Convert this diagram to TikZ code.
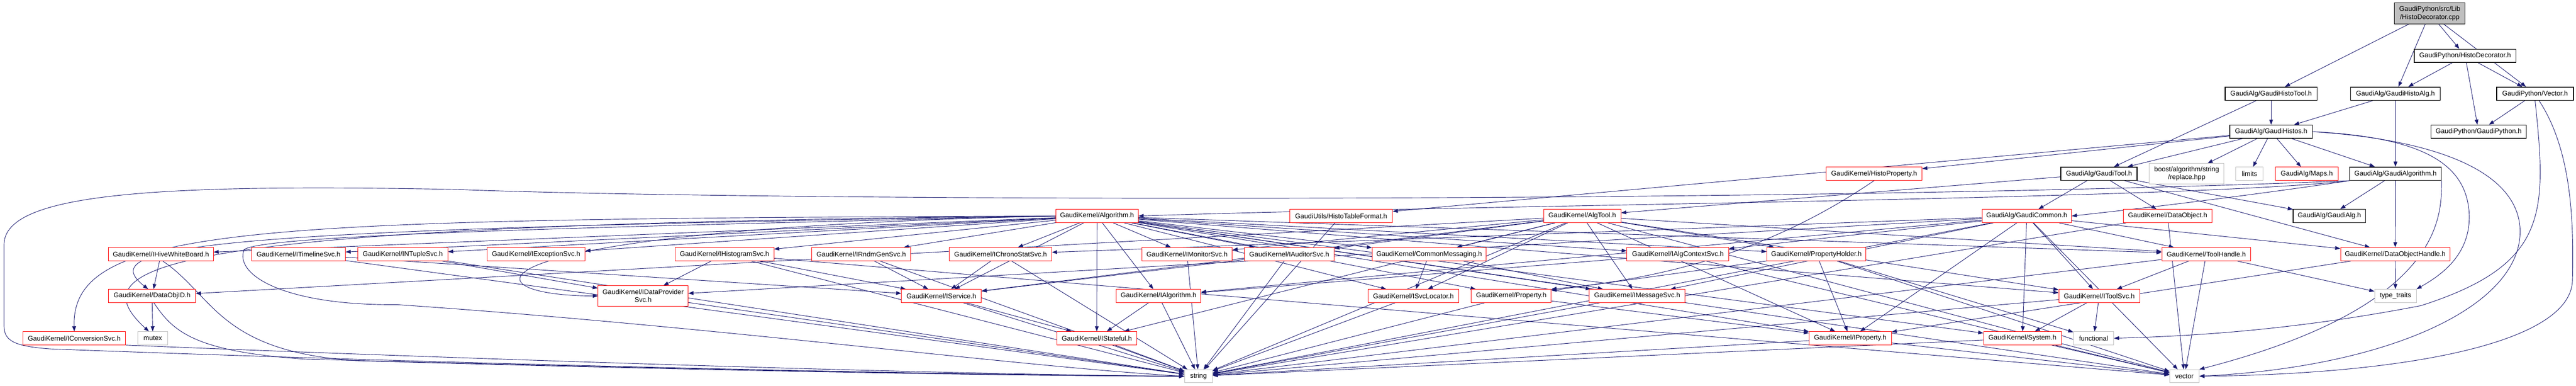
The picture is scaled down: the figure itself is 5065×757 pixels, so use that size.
\documentclass[tikz,border=0pt]{standalone}
\usepackage{fontspec}
\setmainfont{Liberation Sans}
\usetikzlibrary{arrows.meta}
\definecolor{navy}{HTML}{191970}
\definecolor{nred}{HTML}{FF0000}
\definecolor{ngrey}{HTML}{BFBFBF}
\pgfdeclarelayer{bg}
\pgfdeclarelayer{paper}
\pgfsetlayers{paper,bg,main}
\begin{document}
\begin{tikzpicture}[x=0.75pt,y=-0.75pt,
 box/.style={rectangle,draw,fill=white,line width=0.75pt,inner xsep=1pt,inner ysep=0pt,minimum height=19.5pt,align=center,font=\fontsize{10}{11.5}\selectfont},
 rbox/.style={box,draw=nred},
 kbox/.style={box,draw=black,line width=1.1pt},
 gbox/.style={box,draw=ngrey},
 wd/.style={minimum width=#1*0.75pt},
 edg/.style={draw=navy,line width=0.7pt,-{Triangle[length=7.5pt,width=5.5pt]}}]
\begin{pgfonlayer}{paper}
\fill[white] (0,0) rectangle (5065,757);
\end{pgfonlayer}
\useasboundingbox (0,0) rectangle (5065,757);
% rows A-E
\node[box,fill=ngrey,draw=black,wd=139,minimum height=30.75pt] (cpp) at (4777.5,26.5) {GaudiPython/src/Lib\\/HistoDecorator.cpp};
\node[kbox,wd=200] (hdh) at (4847,109.5) {GaudiPython/HistoDecorator.h};
\node[kbox,wd=181] (ght) at (4465.5,184) {GaudiAlg/GaudiHistoTool.h};
\node[kbox,wd=176] (gha) at (4710,184) {GaudiAlg/GaudiHistoAlg.h};
\node[kbox,wd=151] (vech) at (4984.5,184) {GaudiPython/Vector.h};
\node[kbox,wd=163] (ghs) at (4465.5,258.5) {GaudiAlg/GaudiHistos.h};
\node[kbox,wd=187] (gpy) at (4873.5,258.5) {GaudiPython/GaudiPython.h};
\node[rbox,wd=188] (hprop) at (3685,341) {GaudiKernel/HistoProperty.h};
\node[kbox,wd=150] (gtool) at (4127,341) {GaudiAlg/GaudiTool.h};
\node[gbox,wd=147,minimum height=30pt] (boost) at (4299.5,341) {boost/algorithm/string\\/replace.hpp};
\node[gbox,wd=54] (limits) at (4423,341) {limits};
\node[rbox,wd=123] (maps) at (4535.5,341) {GaudiAlg/Maps.h};
\node[kbox,wd=180] (galg) at (4710,341) {GaudiAlg/GaudiAlgorithm.h};
% row F
\node[rbox,wd=162] (alg) at (2157,424) {GaudiKernel/Algorithm.h};
\node[rbox,wd=202] (htf) at (2637,424) {GaudiUtils/HistoTableFormat.h};
\node[rbox,wd=152] (algtool) at (3111,424) {GaudiKernel/AlgTool.h};
\node[rbox,wd=176] (gcom) at (3985,424) {GaudiAlg/GaudiCommon.h};
\node[rbox,wd=174] (dobj) at (4262,424) {GaudiKernel/DataObject.h};
\node[kbox,wd=142] (galgh) at (4580,424) {GaudiAlg/GaudiAlg.h};
% row G
\node[rbox,wd=206] (ihwb) at (316.5,499) {GaudiKernel/IHiveWhiteBoard.h};
\node[rbox,wd=184] (itl) at (587,499) {GaudiKernel/ITimelineSvc.h};
\node[rbox,wd=177] (ints) at (792,499) {GaudiKernel/INTupleSvc.h};
\node[rbox,wd=193] (iexc) at (1054,499) {GaudiKernel/IExceptionSvc.h};
\node[rbox,wd=194] (ihist) at (1424.6,499) {GaudiKernel/IHistogramSvc.h};
\node[rbox,wd=195] (irndm) at (1693.4,499) {GaudiKernel/IRndmGenSvc.h};
\node[rbox,wd=201] (ichrono) at (1967.3,499) {GaudiKernel/IChronoStatSvc.h};
\node[rbox,wd=178] (imon) at (2334,499) {GaudiKernel/IMonitorSvc.h};
\node[rbox,wd=176] (iaud) at (2535,499) {GaudiKernel/IAuditorSvc.h};
\node[rbox,wd=224] (cmsg) at (2810,499) {GaudiKernel/CommonMessaging.h};
\node[rbox,wd=200] (iactx) at (3299,499) {GaudiKernel/IAlgContextSvc.h};
\node[rbox,wd=195] (phold) at (3571.5,499) {GaudiKernel/PropertyHolder.h};
\node[rbox,wd=175] (thandle) at (4338,499) {GaudiKernel/ToolHandle.h};
\node[rbox,wd=215] (dohandle) at (4709.5,499) {GaudiKernel/DataObjectHandle.h};
% row H
\node[rbox,wd=171] (doid) at (299,581) {GaudiKernel/DataObjID.h};
\node[rbox,wd=177,minimum height=30pt] (idps) at (1264.5,581) {GaudiKernel/IDataProvider\\Svc.h};
\node[rbox,wd=157] (isvc) at (1851,581) {GaudiKernel/IService.h};
\node[rbox,wd=166] (ialgo) at (2278,581) {GaudiKernel/IAlgorithm.h};
\node[rbox,wd=178] (isvcl) at (2779,581) {GaudiKernel/ISvcLocator.h};
\node[rbox,wd=157] (prop) at (2971.5,581) {GaudiKernel/Property.h};
\node[rbox,wd=188] (imsg) at (3219,581) {GaudiKernel/IMessageSvc.h};
\node[rbox,wd=159] (itool) at (4127.5,581) {GaudiKernel/IToolSvc.h};
\node[gbox,wd=82] (ttraits) at (4710,581) {type\_traits};
% row I
\node[rbox,wd=202] (iconv) at (146,664) {GaudiKernel/IConversionSvc.h};
\node[gbox,wd=59] (mutex) at (300.5,664) {mutex};
\node[rbox,wd=157] (istate) at (2156.5,664) {GaudiKernel/IStateful.h};
\node[rbox,wd=162] (iprop) at (3638,664) {GaudiKernel/IProperty.h};
\node[rbox,wd=153] (system) at (3976.5,664) {GaudiKernel/System.h};
\node[gbox,wd=79] (functional) at (4116.5,664) {functional};
% row J
\node[gbox,wd=55] (string) at (2356.5,738.5) {string};
\node[gbox,wd=58] (vector) at (4295,738.5) {vector};

\begin{pgfonlayer}{bg}
\foreach \s/\t in {cpp/hdh, cpp/gha, cpp/ght, cpp/vech,
 hdh/gha, hdh/gpy, hdh/vech, ght/ghs, ght/gtool, gha/ghs, gha/galg, vech/gpy,
 ghs/htf, ghs/hprop, ghs/gtool, ghs/boost, ghs/limits, ghs/maps, ghs/galg,
 gtool/algtool, gtool/gcom, gtool/dobj, gtool/galgh, gtool/dohandle,
 galg/galgh, galg/dohandle,
 alg/ihwb, alg/itl, alg/ints, alg/iexc, alg/ihist, alg/irndm, alg/ichrono, alg/imon, alg/iaud, alg/cmsg, alg/iactx, alg/phold, alg/thandle, alg/ialgo, alg/isvc, alg/isvcl, alg/prop, alg/imsg, alg/itool, alg/istate, alg/iprop, alg/system, alg/vector,
 htf/string,
 algtool/imon, algtool/iaud, algtool/cmsg, algtool/isvc, algtool/isvcl, algtool/imsg, algtool/phold, algtool/itool, algtool/thandle, algtool/doid, algtool/istate, algtool/iprop, algtool/string, algtool/vector,
 gcom/ichrono, gcom/iactx, gcom/idps, gcom/ialgo, gcom/imsg, gcom/itool, gcom/thandle, gcom/dohandle, gcom/system, gcom/iprop, gcom/string, gcom/vector,
 dobj/string, dobj/vector, ihwb/doid, itl/isvc, itl/string, ints/idps, ints/string,
 ihist/idps, ihist/isvc, ihist/string, ihist/vector, irndm/isvc, irndm/string,
 ichrono/isvc, ichrono/string, imon/string, iaud/isvc, iaud/string,
 cmsg/isvcl, cmsg/imsg, iactx/ialgo, iactx/vector,
 phold/prop, phold/iprop, phold/functional, phold/vector,
 thandle/itool, thandle/string, thandle/vector, thandle/ttraits,
 dohandle/ttraits, dohandle/iprop, doid/mutex, idps/string,
 isvc/istate, isvc/string, ialgo/istate, ialgo/string, isvcl/string,
 prop/iprop, prop/string, imsg/string, itool/system, itool/functional, itool/string,
 istate/string, iprop/string, iprop/vector, system/string, system/vector}
 \draw[edg] (\s) -- (\t);
% curved connectors
\draw[edg] (galg.south west) .. controls (4300,392) and (2900,402) .. (alg.east);
\draw[edg] (galg.south west) .. controls (4450,380) and (4250,405) .. (gcom.east);
\draw[edg] (galg.south west) .. controls (3500,400) and (1500,395) .. (900,372) .. controls (300,360) and (8,380) .. (8,480) -- (8,640) .. controls (8,670) and (30,680) .. (100,685) .. controls (900,715) and (1800,735) .. (string.west);
\draw[edg] (galg.south east) .. controls (4800,420) and (4810,600) .. (vector.north east);
\draw[edg] (alg.west) .. controls (500,430) and (140,440) .. (iconv.north);
\draw[edg] (alg.west) .. controls (300,440) and (150,520) .. (mutex.120);
\draw[edg] (alg.west) .. controls (400,450) and (180,480) .. (doid.120);
\draw[edg] (alg.west) .. controls (900,450) and (900,580) .. (idps.west);
\draw[edg] (alg.west) .. controls (1200,445) and (520,460) .. (480,490) .. controls (460,540) and (560,600) .. (780,598) .. controls (1400,640) and (2000,720) .. (string.west);
\draw[edg] (ihwb.-75) .. controls (420,580) and (430,690) .. (700,708) .. controls (1400,728) and (2000,738) .. (string.west);
\draw[edg] (doid.-75) .. controls (340,650) and (380,690) .. (600,705) .. controls (1400,726) and (2000,738) .. (string.west);
\draw[edg] (iconv.south east) .. controls (800,700) and (1800,735) .. (string.west);
\draw[edg] (hprop.south) .. controls (3500,480) and (3300,545) .. (prop.north east);
\draw[edg] (vech.south) .. controls (5008,420) and (5010,520) .. (4760,600) .. controls (4500,650) and (4300,660) .. (functional.east);
\draw[edg] (vech.-60) .. controls (5060,300) and (5060,450) .. (5058,550) .. controls (5055,680) and (4700,735) .. (vector.east);
\draw[edg] (ghs.east) .. controls (4780,270) and (4850,330) .. (4855,420) .. controls (4858,500) and (4800,540) .. (ttraits.north east);
\draw[edg] (ghs.east) .. controls (4800,275) and (4950,340) .. (4955,450) .. controls (4960,600) and (4700,720) .. (vector.east);
\end{pgfonlayer}
\end{tikzpicture}
\end{document}
